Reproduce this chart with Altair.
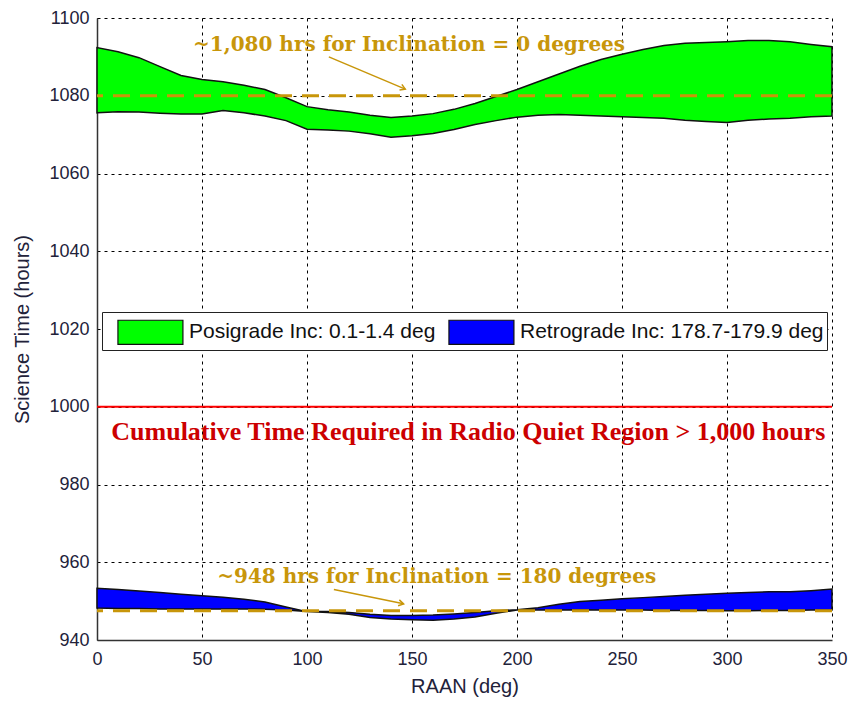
import altair as alt
import pandas as pd

raan = [0, 10, 20, 30, 40, 50, 60, 70, 80, 90, 100, 110, 120, 130, 140, 150, 160, 170,
        180, 190, 200, 210, 220, 230, 240, 250, 260, 270, 280, 290, 300, 310, 320, 330, 340, 350]

pos_hi = [1092.4, 1091.3, 1089.8, 1087.5, 1085.2, 1084.2, 1083.6, 1082.7, 1081.6, 1079.5,
          1077.2, 1076.4, 1075.8, 1075.0, 1074.4, 1074.8, 1075.4, 1076.5, 1078.0, 1079.8,
          1081.6, 1083.6, 1085.6, 1087.6, 1089.3, 1090.7, 1091.9, 1092.9, 1093.5, 1093.7,
          1093.9, 1094.2, 1094.2, 1093.9, 1093.2, 1092.6]
pos_lo = [1075.6, 1075.9, 1075.8, 1075.5, 1075.3, 1075.3, 1076.2, 1075.6, 1074.8, 1073.6,
          1071.4, 1071.2, 1070.9, 1070.2, 1069.3, 1069.7, 1070.3, 1071.3, 1072.6, 1073.6,
          1074.5, 1075.0, 1075.2, 1075.0, 1074.8, 1074.6, 1074.4, 1074.2, 1073.7, 1073.4,
          1073.1, 1073.7, 1074.0, 1074.2, 1074.6, 1074.8]
ret_hi = [953.3, 953.0, 952.6, 952.2, 951.8, 951.4, 951.0, 950.5, 949.8, 948.5,
          947.3, 947.3, 947.1, 946.6, 946.3, 946.3, 946.4, 946.7, 947.1, 947.5,
          947.8, 948.3, 949.2, 949.9, 950.2, 950.6, 950.9, 951.2, 951.5, 951.8,
          952.0, 952.2, 952.4, 952.4, 952.7, 953.1]
ret_lo = [948.2, 948.1, 948.1, 948.0, 948.0, 948.0, 948.0, 948.0, 947.9, 947.7,
          947.3, 947.1, 946.6, 945.8, 945.4, 945.2, 945.1, 945.4, 945.9, 946.9,
          947.7, 947.7, 947.7, 947.8, 947.7, 947.7, 947.7, 947.6, 947.6, 947.6,
          947.5, 947.5, 947.6, 947.6, 947.7, 947.7]

series_names = ["Posigrade Inc: 0.1-1.4 deg", "Retrograde Inc: 178.7-179.9 deg"]
series_colors = ["#00FF00", "#0000FF"]

ref_levels = [1080, 947.5]
required_level = 1000

ann_text = ["~1,080 hrs for Inclination = 0 degrees", "~948 hrs for Inclination = 180 degrees"]
ann_x = [148.6, 161.8]
ann_y = [1093.1, 956.2]
arrow_x0 = [110.4, 112.8]
arrow_y0 = [1090.0, 953.0]
arrow_x1 = [146.8, 146.0]
arrow_y1 = [1081.7, 949.3]
arrow_angle = [23, 12]

red_text = ["Cumulative Time Required in Radio Quiet Region > 1,000 hours"]
red_x = [176.8]
red_y = [993.5]

rows = []
for i, r in enumerate(raan):
    rows.append({"raan": r, "lo": pos_lo[i], "hi": pos_hi[i], "series": series_names[0]})
    rows.append({"raan": r, "lo": ret_lo[i], "hi": ret_hi[i], "series": series_names[1]})
bands = pd.DataFrame(rows)

xscale = alt.Scale(domain=[0, 350], nice=False, zero=False)
yscale = alt.Scale(domain=[940, 1100], nice=False, zero=False)

gold = "#C8960A"

area = alt.Chart(bands).mark_area(stroke="#111111", strokeWidth=1.5, opacity=1).encode(
    x=alt.X("raan:Q", scale=xscale,
            axis=alt.Axis(title="RAAN (deg)", values=[0, 50, 100, 150, 200, 250, 300, 350],
                          format="d")),
    y=alt.Y("lo:Q", scale=yscale,
            axis=alt.Axis(title="Science Time (hours)", format="d",
                          values=[940, 960, 980, 1000, 1020, 1040, 1060, 1080, 1100])),
    y2="hi:Q",
    color=alt.Color("series:N",
                    scale=alt.Scale(domain=series_names, range=series_colors),
                    legend=alt.Legend(title=None, orient="none", legendX=5, legendY=294,
                                      direction="horizontal",
                                      symbolType="M-0.25,-0.74H3.75V0.74H-0.25Z",
                                      symbolSize=1056, symbolStrokeColor="#111111",
                                      symbolStrokeWidth=1.2, symbolOpacity=1,
                                      labelFont="Liberation Sans", labelFontSize=21,
                                      labelColor="#111111", labelOffset=50, labelLimit=0,
                                      columnPadding=-11, padding=3,
                                      strokeColor="#222222", fillColor="white")),
)

ref_df = pd.DataFrame({"y": ref_levels})
gold_lines = alt.Chart(ref_df).mark_rule(color=gold, strokeWidth=3, strokeDash=[17, 10]).encode(
    y=alt.Y("y:Q", scale=yscale)
)

red_line = alt.Chart(pd.DataFrame({"y": [required_level]})).mark_rule(
    color="#FF0000", strokeWidth=2).encode(y=alt.Y("y:Q", scale=yscale))

ann_df = pd.DataFrame({"t": ann_text, "x": ann_x, "y": ann_y})
ann = alt.Chart(ann_df).mark_text(font="DejaVu Serif", fontSize=20, fontWeight="bold",
                                  color=gold, align="center", baseline="middle").encode(
    x=alt.X("x:Q", scale=xscale), y=alt.Y("y:Q", scale=yscale), text="t:N")

arr_df = pd.DataFrame({"x0": arrow_x0, "y0": arrow_y0, "x1": arrow_x1, "y1": arrow_y1,
                       "a": arrow_angle})
arrows = alt.Chart(arr_df).mark_rule(color=gold, strokeWidth=1.5).encode(
    x=alt.X("x0:Q", scale=xscale), y=alt.Y("y0:Q", scale=yscale),
    x2="x1:Q", y2="y1:Q")
heads = alt.Chart(arr_df).mark_point(shape="M-1,-0.6L0,0L-1,0.6", filled=False, size=100,
                                     color=gold, strokeWidth=1.5, opacity=1).encode(
    x=alt.X("x1:Q", scale=xscale), y=alt.Y("y1:Q", scale=yscale),
    angle=alt.Angle("a:Q", scale=None))

red_df = pd.DataFrame({"t": red_text, "x": red_x, "y": red_y})
red_lbl = alt.Chart(red_df).mark_text(font="Liberation Serif", fontSize=26, fontWeight="bold",
                                      color="#CC0000", align="center", baseline="middle").encode(
    x=alt.X("x:Q", scale=xscale), y=alt.Y("y:Q", scale=yscale), text="t:N")

chart = alt.layer(red_line, area, gold_lines, arrows, heads, ann, red_lbl).properties(
    width=735, height=622,
    autosize=alt.AutoSizeParams(type="none"),
    padding={"left": 89, "top": 10, "right": 16, "bottom": 60},
).configure_view(stroke=None).configure_axis(
    grid=True, gridColor="#000000", gridDash=[3, 4], gridWidth=1, gridOpacity=1,
    domainColor="#333333", domainWidth=1.5, ticks=False, labelFlush=False,
    labelFont="Liberation Sans", labelFontSize=18, labelColor="#22223A",
    titleFont="Liberation Sans", titleFontSize=20, titleFontWeight="normal",
    titleColor="#22223A",
).configure_axisY(titlePadding=16, labelPadding=8).configure_axisX(titlePadding=8, labelPadding=10)

chart.save("out.html", embed_options={"renderer": "svg", "actions": False})
